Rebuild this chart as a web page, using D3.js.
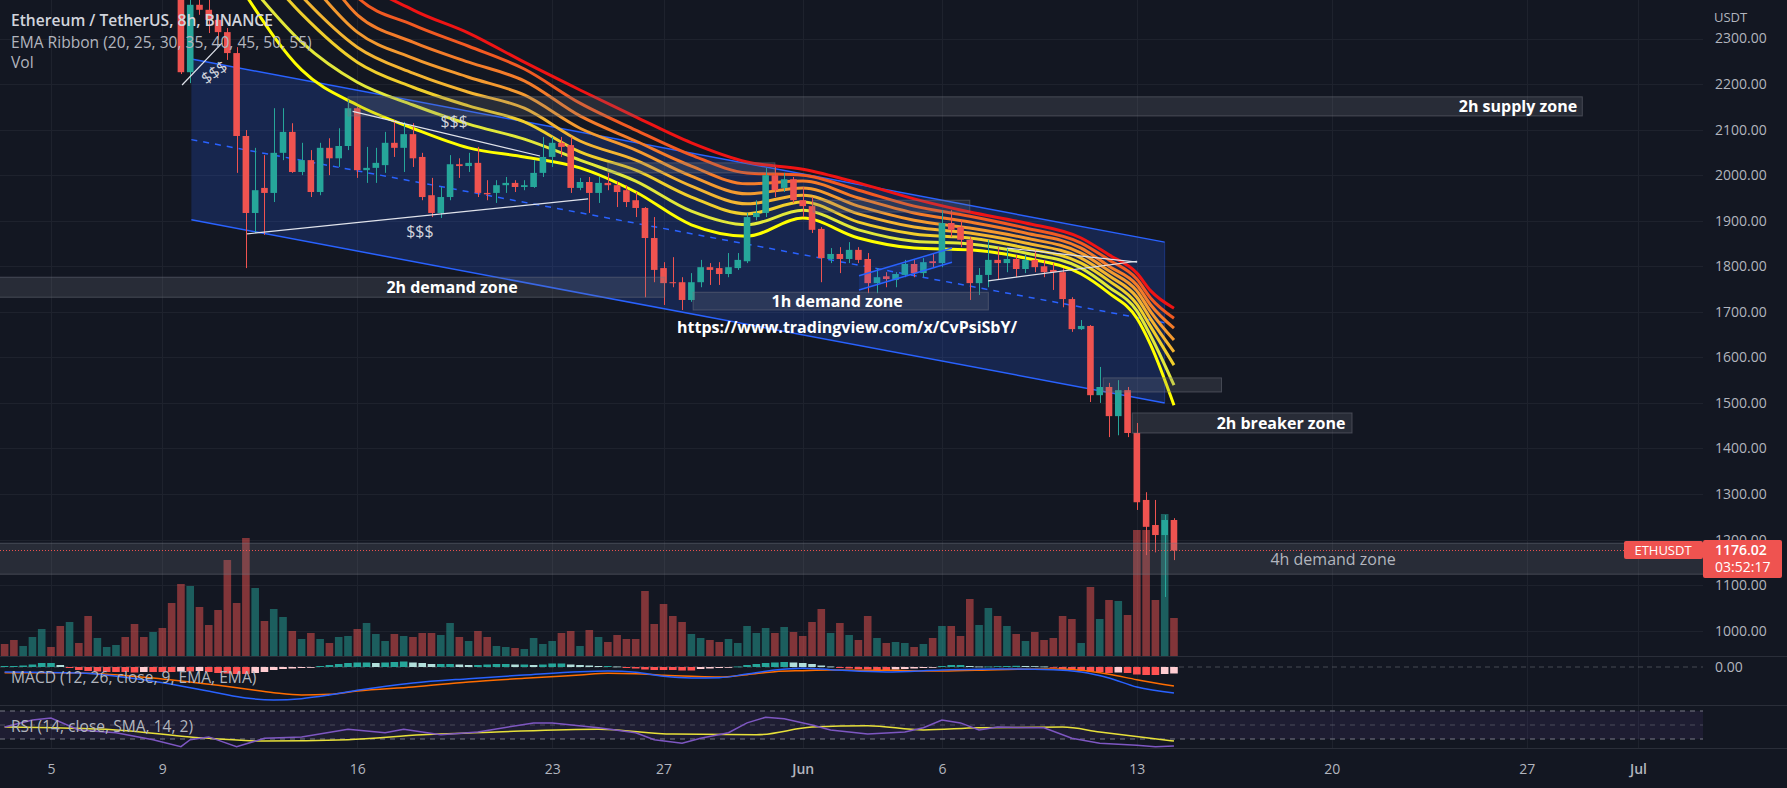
<!DOCTYPE html>
<html><head><meta charset="utf-8">
<script src="https://cdn.jsdelivr.net/npm/d3@7"></script>
<style>body{margin:0;background:#131722;overflow:hidden}svg{display:block;font-family:"Open Sans","Noto Sans",sans-serif}</style>
</head><body><svg id="c" width="1787" height="788"></svg>
<script>
// ---------------- DATA ----------------
const firstBar = "2022-05-03T08:00"; // 8h bars
const ohlc = [
[2890,2910,2840,2860],[2860,2880,2800,2830],[2830,2880,2820,2865],[2865,2900,2850,2890],[2890,2960,2880,2945],
[2945,2955,2900,2920],[2920,2950,2870,2880],[2880,2910,2860,2900],[2900,2910,2720,2750],[2750,2760,2680,2700],
[2700,2740,2690,2720],[2720,2750,2700,2745],[2735,2760,2680,2750],[2750,2755,2660,2680],[2680,2690,2620,2640],
[2640,2650,2560,2580],[2580,2620,2560,2600],[2600,2610,2480,2520],[2520,2540,2440,2460],[2460,2480,2222,2226],
[2226,2390,2202,2374],[2374,2390,2352,2363],[2363,2395,2312,2341],[2341,2352,2297,2314],[2314,2323,2253,2268],
[2268,2281,2005,2086],[2086,2099,1796,1917],[1917,2060,1873,1967],[1972,2044,1869,1961],[1961,2147,1941,2049],
[2049,2147,2033,2095],[2095,2114,2005,2007],[2007,2071,2000,2033],[2033,2055,1952,1963],[1963,2071,1956,2060],
[2060,2081,2000,2037],[2037,2103,2018,2064],[2064,2165,2055,2147],[2147,2150,1994,2011],[2011,2062,1983,2016],
[2016,2060,1983,2027],[2022,2095,2005,2071],[2071,2121,2040,2060],[2060,2117,2007,2090],[2090,2114,2018,2037],
[2040,2049,1945,1952],[1956,1994,1908,1917],[1917,1974,1906,1952],[1952,2044,1945,2024],[2024,2037,1994,2020],
[2020,2049,2007,2027],[2027,2062,1952,1961],[1961,1989,1945,1958],[1961,1989,1939,1978],[1978,1996,1961,1983],
[1983,1989,1963,1974],[1974,1989,1967,1978],[1974,2033,1972,2005],[2005,2084,1996,2040],[2040,2084,2018,2071],
[2071,2084,2040,2062],[2066,2084,1961,1972],[1972,1994,1967,1985],[1985,1996,1917,1961],[1961,1996,1939,1983],
[1983,2005,1967,1978],[1978,1985,1930,1963],[1967,1978,1930,1941],[1945,1963,1908,1928],[1928,1930,1732,1862],
[1862,1908,1765,1792],[1796,1809,1715,1763],[1765,1820,1754,1763],[1765,1776,1704,1726],[1726,1785,1722,1765],
[1765,1814,1754,1798],[1798,1807,1759,1792],[1796,1809,1759,1783],[1783,1829,1776,1798],[1796,1829,1792,1814],
[1811,1917,1807,1908],[1908,1945,1901,1917],[1917,2016,1908,2000],[2000,2018,1952,1967],[1972,2005,1963,1991],
[1991,1996,1939,1945],[1945,1974,1908,1932],[1932,1952,1873,1880],[1882,1886,1765,1818],[1816,1840,1807,1827],
[1827,1842,1785,1816],[1816,1853,1807,1836],[1836,1842,1807,1814],[1816,1829,1741,1763],[1763,1796,1741,1776],
[1778,1787,1754,1772],[1770,1787,1754,1783],[1781,1814,1776,1805],[1805,1814,1776,1785],[1785,1818,1776,1809],
[1811,1829,1798,1807],[1807,1923,1798,1895],[1895,1923,1864,1880],[1886,1901,1842,1858],[1858,1864,1726,1763],
[1763,1796,1737,1781],[1781,1858,1754,1814],[1814,1842,1770,1807],[1807,1840,1787,1816],[1816,1825,1776,1794],
[1794,1825,1785,1814],[1814,1836,1787,1798],[1800,1814,1776,1787],[1792,1807,1748,1787],[1787,1796,1710,1728],
[1728,1732,1656,1662],[1662,1682,1660,1669],[1669,1671,1502,1517],[1517,1579,1500,1535],[1535,1544,1425,1471],
[1471,1550,1429,1528],[1528,1535,1425,1434],[1434,1456,1265,1282],[1287,1304,1166,1228],[1232,1287,1172,1210],
[1210,1254,1074,1243],[1243,1247,1155,1176.02]
];
const volume = [120,160,100,190,270,90,300,340,130,400,180,90,110,190,320,190,240,280,530,720,
700,490,310,460,960,530,1180,680,350,470,390,250,170,230,170,130,190,200,270,330,
220,150,220,200,190,230,230,210,330,190,150,250,190,100,90,80,70,180,120,150,
230,250,100,260,190,140,210,170,170,650,320,520,400,340,220,180,160,140,170,130,
300,230,280,230,290,240,200,340,470,230,330,210,160,400,180,130,140,130,90,120,
180,300,300,200,570,310,480,400,300,220,150,240,160,180,400,370,130,690,370,560,
550,410,1260,1260,560,1420,380];
const macdHist = [3,3,4.5,7.5,12,12,6,-3,-9,-12,-13.5,-15,-15,-15,-16.5,-15,-15,-15,-15,-13.5,
-13.5,-12,-15,-18,-19.5,-21,-21,-18,-15,-9,-6,-4.5,-3,-1.5,3,6,9,12,13.5,13.5,
12,13.5,15,16.5,13.5,12,9,9,9,7.5,6,6,7.5,9,9,7.5,7.5,6,7.5,10.5,
10.5,7.5,6,4.5,3,3,1.5,-3,-4.5,-7.5,-9,-9,-9,-10.5,-10.5,-6,-4.5,-3,-1.5,1.5,
6,9,12,13.5,15,13.5,12,9,4.5,1.5,-3,-4.5,-6,-7.5,-9,-9,-7.5,-6,-4.5,-3,
-1.5,3,6,6,3,1.5,1.5,2.4,3,3.6,3,2.4,1.5,-1.5,-6,-9,-10.5,-13.5,-15,-18,
-16.5,-18,-22.5,-24,-24,-21,-19.5];

const ribbonDates = ["2022-05-12","2022-05-14","2022-05-16","2022-05-18","2022-05-20","2022-05-22","2022-05-24","2022-05-26","2022-05-28","2022-05-30","2022-06-01","2022-06-03","2022-06-05","2022-06-07","2022-06-09","2022-06-11","2022-06-12","2022-06-13","2022-06-13T12:00","2022-06-14T08:00"];
const ema20 = [2395,2231,2154,2103,2060,2040,2016,1963,1891,1866,1906,1862,1840,1836,1818,1783,1741,1686,1627,1495];
const ema25 = [2428,2292,2204,2154,2112,2079,2033,1987,1921,1891,1923,1880,1855,1849,1829,1796,1754,1702,1647,1539];
const ema30 = [2494,2354,2248,2193,2152,2117,2051,2011,1952,1915,1941,1897,1871,1862,1840,1807,1768,1717,1667,1583];
const ema35 = [2538,2393,2281,2224,2182,2147,2075,2033,1976,1937,1956,1915,1886,1873,1851,1818,1779,1732,1684,1612];
const ema40 = [2593,2446,2314,2257,2215,2176,2103,2055,1998,1959,1972,1932,1901,1884,1862,1829,1790,1746,1700,1638];
const ema45 = [2659,2512,2352,2292,2248,2207,2130,2075,2020,1981,1987,1950,1917,1897,1873,1840,1800,1759,1715,1664];
const ema50 = [2714,2567,2391,2330,2283,2233,2158,2099,2044,2005,2000,1967,1932,1910,1884,1851,1814,1772,1730,1686];
const ema55 = [2780,2622,2439,2363,2312,2248,2187,2128,2071,2029,2013,1983,1948,1919,1895,1862,1825,1785,1746,1708];

const macdDates = ["2022-05-03T08:00","2022-05-06","2022-05-09","2022-05-11","2022-05-12","2022-05-13","2022-05-14","2022-05-15","2022-05-16","2022-05-18","2022-05-20","2022-05-22","2022-05-24","2022-05-25","2022-05-26","2022-05-27","2022-05-28","2022-05-29","2022-05-30","2022-05-31","2022-06-01","2022-06-02","2022-06-04","2022-06-06","2022-06-08","2022-06-10","2022-06-11","2022-06-12","2022-06-13","2022-06-14T08:00"];
const macdLine = [-15,-18,-47,-78,-93,-99,-95,-84,-70,-48,-35,-24,-14,-12,-16,-28,-33,-32,-21,-9,-4,-8,-15,-9,-6,-8,-15,-33,-60,-78];
const signalLine = [-17,-18,-36,-55,-66,-77,-84,-82,-72,-60,-45,-34,-24,-19,-20,-25,-28,-30,-23,-14,-11,-9,-10,-12,-8,-6,-10,-22,-38,-57];

const rsiDates = ["2022-05-03T08:00","2022-05-04T08:00","2022-05-05T00:00","2022-05-06T00:00","2022-05-07T08:00","2022-05-08T16:00","2022-05-09T16:00","2022-05-10T00:00","2022-05-10T16:00","2022-05-11T16:00","2022-05-12T16:00","2022-05-14T00:00","2022-05-15T16:00","2022-05-17T00:00","2022-05-17T16:00","2022-05-19T00:00","2022-05-20T08:00","2022-05-22T08:00","2022-05-23T00:00","2022-05-24T16:00","2022-05-26T00:00","2022-05-26T16:00","2022-05-27T16:00","2022-05-28T08:00","2022-05-29T08:00","2022-05-30T00:00","2022-05-30T16:00","2022-05-31T08:00","2022-06-01T08:00","2022-06-02T00:00","2022-06-03T08:00","2022-06-04T16:00","2022-06-05T08:00","2022-06-06T00:00","2022-06-06T16:00","2022-06-07T08:00","2022-06-08T00:00","2022-06-09T16:00","2022-06-10T16:00","2022-06-11T16:00","2022-06-13T00:00","2022-06-13T16:00","2022-06-14T08:00"];
const rsiValues = [47,57,60,43,39,29,19,29,33,19,31,33,44,39,44,36,40,53,53,46,39,29,24,31,39,53,61,59,50,43,37,40,46,57,53,43,47,46,31,24,21,19,20];
const rsiMaDates = ["2022-05-03T08:00","2022-05-07T08:00","2022-05-10T00:00","2022-05-12T16:00","2022-05-15T16:00","2022-05-18T08:00","2022-05-21T00:00","2022-05-24T16:00","2022-05-27T08:00","2022-05-30T08:00","2022-06-01T08:00","2022-06-03T08:00","2022-06-05T08:00","2022-06-07T08:00","2022-06-10T08:00","2022-06-11T16:00","2022-06-14T08:00"];
const rsiMa = [47,43,33,27,29,36,40,44,37,36,47,49,43,46,47,40,27];

const priceTicks = [1000,1100,1200,1300,1400,1500,1600,1700,1800,1900,2000,2100,2200,2300];
const timeTicks = ["2022-05-05","2022-05-09","2022-05-16","2022-05-23","2022-05-27","2022-06-01","2022-06-06","2022-06-13","2022-06-20","2022-06-27","2022-07-01"];
const timeTickLabels = ["5","9","16","23","27","Jun","6","13","20","27","Jul"];

// drawings (time, price)
const zones = [
 ["2022-05-15T16:00","2022-06-29T00:00",2130,2172],
 ["2022-04-28T00:00","2022-05-27T01:00",1732,1776],
 ["2022-05-28T01:30","2022-06-07T16:00",1704,1743],
 ["2022-05-25T00:00","2022-05-31T00:00",2005,2027],
 ["2022-06-01T09:00","2022-06-07T00:00",1919,1945],
 ["2022-06-11T19:00","2022-06-16T01:00",1524,1555],
 ["2022-06-12T20:00","2022-06-20T17:30",1434,1478],
 ["2022-04-28T00:00","2022-07-10T00:00",1124,1192]
];
const zoneLabels = [
 ["2h supply zone","2022-06-26T16:30",2151],
 ["2h demand zone","2022-05-19T09:40",1754],
 ["1h demand zone","2022-06-02T05:40",1723],
 ["2h breaker zone","2022-06-18T04:20",1456]
];
const softLabels = [["4h demand zone","2022-06-20T01:10",1158]];
const channelTop = [["2022-05-10T01:00",2255],["2022-06-14T00:00",1853]];
const channelMid = [["2022-05-10T01:00",2078],["2022-06-14T00:00",1676]];
const channelBottom = [["2022-05-10T01:00",1902],["2022-06-14T00:00",1500]];
const smallChTop = [["2022-06-03T00:30",1779],["2022-06-06T08:40",1840]];
const smallChBottom = [["2022-06-03T00:30",1748],["2022-06-06T08:40",1809]];
const whiteLines = [
 ["2022-05-12T01:00",1871,"2022-05-24T07:00",1948],
 ["2022-05-15T20:00",2140,"2022-05-22T13:30",2042],
 ["2022-05-09T17:00",2198,"2022-05-11T03:20",2290],
 ["2022-06-08T08:10",1840,"2022-06-13T00:15",1809],
 ["2022-06-07T15:50",1768,"2022-06-13T00:15",1811]
];
const dollarLabels = [["2022-05-18T06:00",1877,0],["2022-05-19T11:30",2119,0],["2022-05-10T20:30",2226,-35]];
const urlText = ["https://www.tradingview.com/x/CvPsiSbY/","2022-06-02T14:10",1667];
const lastPrice = 1176.02, countdown = "03:52:17";

// ---------------- RENDER ----------------
const D = s => new Date(s.length === 10 ? s + "T00:00:00Z" : s + ":00Z");
const svg = d3.select("#c");
const PR = 1703, MAINB = 656, MACDB = 705, RSIB = 748;
const x = d3.scaleUtc().domain([D("2022-05-05"), D("2022-07-01")]).range([51, 1638]);
const y = d3.scaleLinear().domain([1000, 2300]).range([630.7, 38.5]);
const yVol = d3.scaleLinear().domain([0, 1420]).range([MAINB, 514]);
const yMacd = d3.scaleLinear().domain([0, -99]).range([667, 700]);
const yRsi = d3.scaleLinear().domain([30, 70]).range([739, 711]);
const t0 = D(firstBar).getTime();
const barT = ohlc.map((_, i) => new Date(t0 + i * 288e5));

const defs = svg.append("defs");
[["cm",0,0,PR,MAINB],["cmacd",0,MAINB,PR,MACDB-MAINB],["crsi",0,MACDB,PR,RSIB-MACDB]].forEach(c=>{
  defs.append("clipPath").attr("id",c[0]).append("rect").attr("x",c[1]).attr("y",c[2]).attr("width",c[3]).attr("height",c[4]);
});
svg.append("rect").attr("width",1787).attr("height",788).attr("fill","#131722");

// grid
const grid = svg.append("g").attr("stroke","#1e222d").attr("stroke-width",1);
grid.selectAll("line.h").data(priceTicks).join("line").attr("x1",0).attr("x2",PR)
  .attr("y1",d=>Math.round(y(d))+0.5).attr("y2",d=>Math.round(y(d))+0.5);
grid.selectAll("line.v").data(timeTicks).join("line").attr("y1",0).attr("y2",RSIB)
  .attr("x1",d=>Math.round(x(D(d)))+0.5).attr("x2",d=>Math.round(x(D(d)))+0.5);

// panes separators
svg.append("g").attr("stroke","#2a2e39").selectAll("line").data([MAINB,MACDB,RSIB]).join("line")
  .attr("x1",0).attr("x2",1787).attr("y1",d=>d+0.5).attr("y2",d=>d+0.5);

const main = svg.append("g").attr("clip-path","url(#cm)");
// volume
main.append("g").selectAll("rect").data(volume).join("rect")
  .attr("x",(d,i)=>x(barT[i])-3.8).attr("width",7.6)
  .attr("y",d=>yVol(d)).attr("height",d=>MAINB-yVol(d))
  .attr("fill",(d,i)=>ohlc[i][3]>=ohlc[i][0]?"#26a69a":"#ef5350").attr("fill-opacity",0.5);

// channel
const pt = p => [x(D(p[0])), y(p[1])];
const chPoly = [pt(channelTop[0]),pt(channelTop[1]),pt(channelBottom[1]),pt(channelBottom[0])];
main.append("path").attr("d","M"+chPoly.join("L")+"Z").attr("fill","rgba(41,98,255,0.2)");
const line2 = (g,a,col,w,dash)=>g.append("line").attr("x1",pt(a[0])[0]).attr("y1",pt(a[0])[1]).attr("x2",pt(a[1])[0]).attr("y2",pt(a[1])[1])
   .attr("stroke",col).attr("stroke-width",w).attr("stroke-dasharray",dash||null);
line2(main,channelTop,"#2962ff",1.5); line2(main,channelBottom,"#2962ff",1.5);
line2(main,channelMid,"#2962ff",1.5,"6,6");
main.append("line").attr("x1",pt(channelTop[1])[0]).attr("x2",pt(channelBottom[1])[0]).attr("y1",pt(channelTop[1])[1]).attr("y2",pt(channelBottom[1])[1]).attr("stroke","rgba(41,98,255,0.35)");

// ribbon
const emas = [ema20,ema25,ema30,ema35,ema40,ema45,ema50,ema55];
const ribbonCols = ["#ffff00","#e2e83a","#f0cf2c","#f4b532","#f49a30","#f47c2a","#f25a22","#f01414"];
const rl = d3.line().x((d,i)=>x(D(ribbonDates[i]))).y(d=>y(d)).curve(d3.curveMonotoneX);
main.append("g").selectAll("path").data(emas.slice().reverse()).join("path")
  .attr("d",rl).attr("fill","none").attr("stroke",(d,i)=>ribbonCols[7-i]).attr("stroke-width",3);

// candles
const cg = main.append("g");
ohlc.forEach((c,i)=>{
  const xc = x(barT[i]), up = c[3]>=c[0], col = up?"#26a69a":"#ef5350";
  cg.append("line").attr("x1",Math.round(xc)+0.5).attr("x2",Math.round(xc)+0.5).attr("y1",y(c[1])).attr("y2",y(c[2])).attr("stroke",col);
  const yt = y(Math.max(c[0],c[3])), yb = y(Math.min(c[0],c[3]));
  cg.append("rect").attr("x",xc-3.3).attr("width",6.6).attr("y",yt).attr("height",Math.max(1,yb-yt)).attr("fill",col);
});

// zones
main.append("g").selectAll("rect").data(zones).join("rect")
  .attr("x",d=>x(D(d[0]))).attr("width",d=>x(D(d[1]))-x(D(d[0])))
  .attr("y",d=>y(d[3])).attr("height",d=>y(d[2])-y(d[3]))
  .attr("fill","rgba(120,123,134,0.22)").attr("stroke","rgba(120,123,134,0.45)");

// small channel
const scPoly = [pt(smallChTop[0]),pt(smallChTop[1]),pt(smallChBottom[1]),pt(smallChBottom[0])];
main.append("path").attr("d","M"+scPoly.join("L")+"Z").attr("fill","rgba(41,98,255,0.15)");
line2(main,smallChTop,"#2962ff",1.5); line2(main,smallChBottom,"#2962ff",1.5);

// white lines
main.append("g").selectAll("line").data(whiteLines).join("line")
  .attr("x1",d=>x(D(d[0]))).attr("y1",d=>y(d[1])).attr("x2",d=>x(D(d[2]))).attr("y2",d=>y(d[3]))
  .attr("stroke","#e0e3eb").attr("stroke-width",1.2);

// price line
main.append("line").attr("x1",0).attr("x2",PR).attr("y1",y(lastPrice)).attr("y2",y(lastPrice))
  .attr("stroke","#ef5350").attr("stroke-dasharray","1,2").attr("stroke-width",1);

// texts in main
main.append("g").selectAll("text").data(zoneLabels).join("text")
  .attr("x",d=>x(D(d[1]))).attr("y",d=>y(d[2])).attr("text-anchor","middle").attr("dominant-baseline","central")
  .attr("fill","#ffffff").attr("font-size",16).attr("font-weight",700).text(d=>d[0]);
main.append("g").selectAll("text").data(softLabels).join("text")
  .attr("x",d=>x(D(d[1]))).attr("y",d=>y(d[2])).attr("text-anchor","middle").attr("dominant-baseline","central")
  .attr("fill","#b2b5be").attr("font-size",16).attr("font-weight",500).text(d=>d[0]);
main.append("g").selectAll("text").data(dollarLabels).join("text")
  .attr("transform",d=>`translate(${x(D(d[0]))},${y(d[1])}) rotate(${d[2]})`)
  .attr("text-anchor","middle").attr("dominant-baseline","central")
  .attr("fill","#d1d4dc").attr("font-size",16).text("$$$");
main.append("text").attr("x",x(D(urlText[1]))).attr("y",y(urlText[2])).attr("text-anchor","middle").attr("dominant-baseline","central")
  .attr("fill","#ffffff").attr("font-size",16).attr("font-weight",700).text(urlText[0]);

// MACD pane
const mg = svg.append("g").attr("clip-path","url(#cmacd)");
mg.append("line").attr("x1",0).attr("x2",PR).attr("y1",yMacd(0)).attr("y2",yMacd(0)).attr("stroke","rgba(120,123,134,0.5)").attr("stroke-dasharray","5,4");
mg.append("g").selectAll("rect").data(macdHist).join("rect")
  .attr("x",(d,i)=>x(barT[i])-3.8).attr("width",7.6)
  .attr("y",d=>Math.min(yMacd(0),yMacd(d))).attr("height",d=>Math.max(0.8,Math.abs(yMacd(d)-yMacd(0))))
  .attr("fill",(d,i)=>{const p=i>0?macdHist[i-1]:d; return d>=0?(d>=p?"#26a69a":"#b2dfdb"):(d<=p?"#ff5252":"#ffcdd2");});
const ml = arr => d3.line().x((d,i)=>x(D(macdDates[i]))).y(d=>yMacd(d)).curve(d3.curveMonotoneX)(arr);
mg.append("path").attr("d",ml(signalLine)).attr("fill","none").attr("stroke","#ff6d00").attr("stroke-width",1.5);
mg.append("path").attr("d",ml(macdLine)).attr("fill","none").attr("stroke","#2962ff").attr("stroke-width",1.5);

// RSI pane
const rg = svg.append("g").attr("clip-path","url(#crsi)");
rg.append("rect").attr("x",0).attr("width",PR).attr("y",yRsi(70)).attr("height",yRsi(30)-yRsi(70)).attr("fill","rgba(126,87,194,0.1)");
rg.append("g").selectAll("line").data([70,50,30]).join("line").attr("x1",0).attr("x2",PR)
  .attr("y1",d=>yRsi(d)).attr("y2",d=>yRsi(d)).attr("stroke",d=>d===50?"rgba(120,123,134,0.5)":"#787b86").attr("stroke-dasharray","5,5");
rg.append("path").attr("d",d3.line().x((d,i)=>x(D(rsiMaDates[i]))).y(d=>yRsi(d)).curve(d3.curveMonotoneX)(rsiMa))
  .attr("fill","none").attr("stroke","#e8e13a").attr("stroke-width",1.5);
rg.append("path").attr("d",d3.line().x((d,i)=>x(D(rsiDates[i]))).y(d=>yRsi(d))(rsiValues))
  .attr("fill","none").attr("stroke","#7e57c2").attr("stroke-width",1.5);

// legends
const lg = svg.append("g").attr("font-size",15.6);
lg.append("text").attr("x",11).attr("y",26).attr("fill","#d1d4dc").attr("font-weight",600).text("Ethereum / TetherUS, 8h, BINANCE");
lg.append("text").attr("x",11).attr("y",48).attr("fill","#b2b5be").text("EMA Ribbon (20, 25, 30, 35, 40, 45, 50, 55)");
lg.append("text").attr("x",11).attr("y",68).attr("fill","#b2b5be").text("Vol");
lg.append("text").attr("x",11).attr("y",683).attr("fill","#b2b5be").text("MACD (12, 26, close, 9, EMA, EMA)");
lg.append("text").attr("x",11).attr("y",732).attr("fill","#b2b5be").text("RSI (14, close, SMA, 14, 2)");

// price axis (labels hidden behind the last-price tag are drawn first so the tag covers them)
const pa = svg.append("g").attr("transform",`translate(${PR},0)`)
  .call(d3.axisRight(y).tickValues(priceTicks).tickFormat(d3.format(".2f")).tickSize(0).tickPadding(12));
pa.select(".domain").remove();
pa.selectAll("text").attr("fill","#b2b5be").attr("font-size",14).attr("font-family","'Open Sans',sans-serif");
svg.append("text").attr("x",1714).attr("y",22).attr("fill","#b2b5be").attr("font-size",13).text("USDT");
svg.append("text").attr("x",1715).attr("y",yMacd(0)).attr("dy","0.35em").attr("fill","#b2b5be").attr("font-size",14).text("0.00");

// time axis
const ta = svg.append("g").attr("transform",`translate(0,${RSIB})`)
  .call(d3.axisBottom(x).tickValues(timeTicks.map(D)).tickFormat((d,i)=>timeTickLabels[i]).tickSize(0).tickPadding(16));
ta.select(".domain").remove();
ta.selectAll("text").attr("fill","#b2b5be").attr("font-size",14).attr("font-family","'Open Sans',sans-serif")
  .attr("font-weight",(d,i)=>/[A-Z]/.test(timeTickLabels[i])?600:400);

// last price tags
const yl = y(lastPrice);
svg.append("rect").attr("x",1624).attr("y",yl-9.5).attr("width",79).attr("height",18).attr("rx",2).attr("fill","#ef5350");
svg.append("text").attr("x",1663).attr("y",yl).attr("dy","0.35em").attr("text-anchor","middle").attr("fill","#ffffff").attr("font-size",13).text("ETHUSDT");
svg.append("rect").attr("x",PR).attr("y",yl-10.5).attr("width",79).attr("height",38).attr("rx",2).attr("fill","#ef5350");
svg.append("text").attr("x",1715).attr("y",yl).attr("dy","0.35em").attr("fill","#ffffff").attr("font-size",14).attr("font-weight",600).text(d3.format(".2f")(lastPrice));
svg.append("text").attr("x",1715).attr("y",yl+17).attr("dy","0.35em").attr("fill","#ffffff").attr("font-size",14).text(countdown);
</script></body></html>
